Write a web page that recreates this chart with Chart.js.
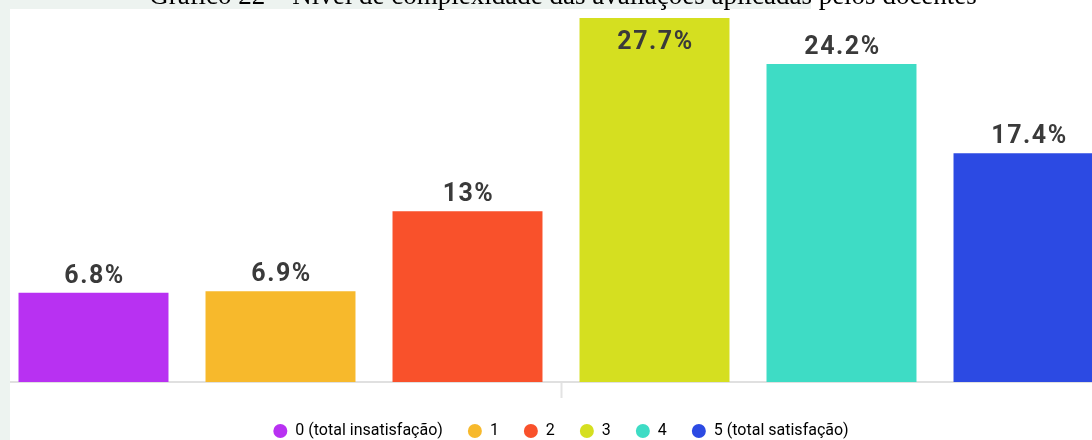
<!DOCTYPE html>
<html>
<head>
<meta charset="utf-8">
<script src="https://cdn.jsdelivr.net/npm/chart.js@4"></script>
<style>
  html, body { margin: 0; padding: 0; }
  body { width: 1092px; height: 440px; overflow: hidden; position: relative; background: #ffffff; }
  #topStrip { position: absolute; left: 0; top: 0; width: 811px; height: 9px; background: #edf3f0; }
  #leftStrip { position: absolute; left: 0; top: 0; width: 10px; height: 440px; background: #edf3f0; z-index: 3; }
  #title { position: absolute; left: 0; width: 1126px; top: -18px; text-align: center; white-space: nowrap;
           font-family: "Liberation Serif", "Times New Roman", serif; font-size: 27px; line-height: 27px; color: #000; z-index: 4; }
  #wrap { position: absolute; left: 0; top: 0; width: 1122px; height: 449px; z-index: 2; }
</style>
</head>
<body>
<div id="topStrip"></div>
<div id="leftStrip"></div>
<div id="title">Gráfico 22 – Nível de complexidade das avaliações aplicadas pelos docentes</div>
<div id="wrap"><canvas id="nivelChart"></canvas></div>
<script>
// dados
var categorias = ['0 (total insatisfação)', '1', '2', '3', '4', '5 (total satisfação)'];
var percentuais = [6.8, 6.9, 13, 27.7, 24.2, 17.4];
var cores = ['#b831f2', '#f7b92c', '#f9512b', '#d5df20', '#3edcc5', '#2c4ae3'];

// rotulos de porcentagem em cima das barras
var rotulos = {
    id: 'rotulos',
    afterDatasetsDraw: function(chart) {
        var ctx = chart.ctx;
        var meta = chart.getDatasetMeta(0);
        ctx.save();
        ctx.font = 'bold 25px Roboto';
        ctx.letterSpacing = '1.5px';
        ctx.fillStyle = '#3a3a3a';
        ctx.textAlign = 'center';
        ctx.textBaseline = 'alphabetic';
        meta.data.forEach(function(bar, i) {
            var texto = percentuais[i] + '%';
            var y = bar.y - 10;
            if (y - 20 < chart.chartArea.top) {
                y = bar.y + 31; // nao cabe em cima, vai pra dentro
            }
            ctx.fillText(texto, bar.x + 1, y);
        });
        ctx.restore();
    }
};

var ctx = document.getElementById('nivelChart').getContext('2d');
var nivelChart = new Chart(ctx, {
    type: 'bar',
    data: {
        labels: categorias,
        datasets: [{
            data: percentuais,
            backgroundColor: cores,
            borderWidth: 0,
            categoryPercentage: 1,
            barPercentage: 0.802
        }]
    },
    options: {
        responsive: true,
        maintainAspectRatio: false,
        animation: false,
        layout: { padding: 0 },
        scales: {
            x: {
                ticks: { display: false },
                grid: {
                    display: true,
                    drawOnChartArea: false,
                    drawTicks: true,
                    tickLength: 16,
                    tickWidth: 2,
                    offset: true,
                    tickColor: function(c) {
                        return c.index === 3 ? '#e3e3e3' : 'rgba(0,0,0,0)';
                    }
                },
                border: { display: true, color: '#e0e0e0', width: 2 }
            },
            y: {
                display: false,
                min: 0,
                max: 29.07
            }
        },
        plugins: {
            tooltip: { enabled: false },
            legend: {
                position: 'bottom',
                labels: {
                    usePointStyle: true,
                    pointStyle: 'circle',
                    pointStyleWidth: 14,
                    boxHeight: 10,
                    padding: 25,
                    color: '#555555',
                    font: { family: 'Roboto', size: 16 },
                    generateLabels: function(chart) {
                        return categorias.map(function(nome, i) {
                            return {
                                text: nome,
                                fillStyle: cores[i],
                                strokeStyle: cores[i],
                                lineWidth: 0,
                                pointStyle: 'circle',
                                hidden: false,
                                index: i
                            };
                        });
                    }
                }
            }
        }
    },
    plugins: [rotulos]
});
</script>
</body>
</html>
